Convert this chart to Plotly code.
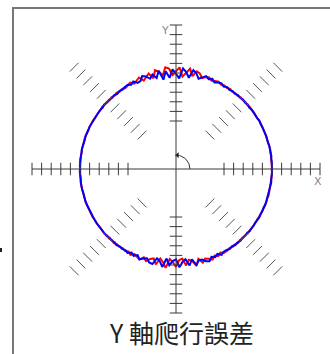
import numpy as np
import plotly.graph_objects as go

# Polar sampling of the measured path: one sample every 2 degrees
ANGLE_STEP_DEG = 2
NOMINAL_RADIUS = 10.0

# Radial deviation from the nominal circle, in hundredths of a unit
red_dev = [
    2, -1, 3, 0, -2, 1, 3, -1, 0, 2, -2, 1, 0, 3, -1, 2, -3, 1, 2, -1,
    4, -3, 5, -2, 6, -4, 3, -5, 7, -3,
    6, -4, 12, 3, -10, 15, 8, -14,
    25, 40, -18, 55, 10, -35, 60, 22, -20, 48, 65, -15, 30, 52, -25,
    35, 8, -20, 28, 12, -10, 18, 5,
    -5, 6, -4, 7, -3, 5, -6, 4, -2, 5,
    -2, 1, 3, -1, 2, -3, 1, 0, 2, -2, 3, -1, 0, 2, -3, 1, 2, -1, 3, -2,
    1, 0, -2, 3, -1, 2, -3, 1, 0, 2, -1, 3, -2, 1, 2, -3, 0, 1, -2, 3,
    5, -4, 6, -3, 7, -5, 4, -6, 5,
    -8, 12, -15, 5, 18, -20, 10, -25,
    -40, 15, -55, -20, 35, -60, -30, 20, -50, -65, 10, -45, -25, 30, -35,
    15, -20, -5, 18, -12, 8, -15, 6,
    5, -6, 4, -3, 6, -5, 3, -4, 5, -2,
    2, -1, 3, -2, 1, 0, 2, -3, 1, 2, -1, 3, 0, -2, 1, 2, -1, 0, 1, -2,
]
blue_dev = [
    -1, 2, 0, -2, 3, -1, 1, 2, -3, 0, 1, -2, 2, 0, -1, 3, -2, 0, 1, 2,
    -4, 5, -3, 6, -2, 4, -6, 3, -5, 6,
    -8, 10, 2, -14, 12, -5, 18, -12,
    -30, 20, 45, -40, 15, 50, -55, -10, 38, -48, 25, -60, 40, -30, 15,
    -22, 14, 30, -12, -18, 16, -6, 10,
    6, -4, 5, -7, 3, -5, 4, -3, 6, -4,
    1, -2, 2, 0, -3, 1, 2, -1, 0, 3, -2, 1, -1, 2, 0, -3, 2, 1, -2, 0,
    3, -1, 1, -2, 2, 0, -1, 3, -2, 1, 0, -2, 2, 1, -3, 0, 2, -1, 1, -2,
    -4, 5, -6, 3, -5, 7, -4, 5, -3,
    10, -14, 6, -18, 15, -8, -22, 12,
    20, -50, -25, 30, -62, 5, -40, -58, 25, -30, -55, 15, -45, 22, -20,
    -18, 10, 22, -14, 5, -16, 12, -6,
    -5, 4, -6, 5, -3, 6, -4, 3, -5, 4,
    -1, 2, -2, 0, 3, -1, 1, -2, 2, 0, -3, 1, 2, -1, 0, 2, -2, 1, 0,
]

# Scale ticks (units from the centre) on the axes and the diagonals
tick_units = [5, 6, 7, 8, 9, 10, 11, 12, 13, 14, 15]
diagonal_angles_deg = [45, 135, 225, 315]
axis_extent = 15
title_text = "Y 軸爬行誤差"

TICK_HALF = 0.65
AXIS_COLOR = "#3a3a3a"
DIAG_COLOR = "#555555"


def to_xy(dev):
    theta = np.deg2rad(np.arange(len(dev)) * ANGLE_STEP_DEG)
    r = NOMINAL_RADIUS + np.asarray(dev, dtype=float) / 100.0
    x = r * np.cos(theta)
    y = r * np.sin(theta)
    return np.append(x, x[0]), np.append(y, y[0])


fig = go.Figure()

# Axis lines
shapes = [
    dict(type="line", x0=-axis_extent, x1=axis_extent, y0=0, y1=0,
         line=dict(color=AXIS_COLOR, width=1)),
    dict(type="line", x0=0, x1=0, y0=-axis_extent, y1=axis_extent,
         line=dict(color=AXIS_COLOR, width=1)),
]
# Axis ticks on both sides of the centre
for t in tick_units:
    for s in (-1, 1):
        shapes.append(dict(type="line", x0=s * t, x1=s * t, y0=-TICK_HALF, y1=TICK_HALF,
                           line=dict(color=AXIS_COLOR, width=1)))
        shapes.append(dict(type="line", x0=-TICK_HALF, x1=TICK_HALF, y0=s * t, y1=s * t,
                           line=dict(color=AXIS_COLOR, width=1)))
# Diagonal hatch ticks, perpendicular to each 45-degree direction
for a in diagonal_angles_deg:
    ar = np.deg2rad(a)
    ux, uy = np.cos(ar), np.sin(ar)
    px, py = -uy, ux
    for t in tick_units:
        cx, cy = t * ux, t * uy
        shapes.append(dict(type="line",
                           x0=cx - TICK_HALF * px, y0=cy - TICK_HALF * py,
                           x1=cx + TICK_HALF * px, y1=cy + TICK_HALF * py,
                           line=dict(color=DIAG_COLOR, width=1)))

# Frame around the plot (left and top edges)
shapes.append(dict(type="path", xref="paper", yref="paper",
                   path=f"M {13/330} 0 L {13/330} {1-8/354} L 1 {1-8/354}",
                   line=dict(color="#777777", width=2)))
# Small mark at the left edge
shapes.append(dict(type="rect", xref="paper", yref="paper",
                   x0=0, x1=2/330, y0=1-252/354, y1=1-248/354,
                   fillcolor="#222222", line=dict(width=0)))

# Rotation-direction arc near the centre
arc_t = np.deg2rad(np.arange(0, 81, 5))
arc_r = 1.45
fig.add_trace(go.Scatter(x=arc_r * np.cos(arc_t), y=arc_r * np.sin(arc_t), mode="lines",
                         line=dict(color="#333333", width=1), hoverinfo="skip"))
fig.add_trace(go.Scatter(x=[arc_r * np.cos(np.deg2rad(84))], y=[arc_r * np.sin(np.deg2rad(84))],
                         mode="markers",
                         marker=dict(symbol="triangle-left", size=5, color="#222222"),
                         hoverinfo="skip"))

rx, ry = to_xy(red_dev)
bx, by = to_xy(blue_dev)
fig.add_trace(go.Scatter(x=rx, y=ry, mode="lines", line=dict(color="#ff0000", width=2)))
fig.add_trace(go.Scatter(x=bx, y=by, mode="lines", line=dict(color="#0000ff", width=2)))

W, H = 330, 354
CX, CY, UNIT = 176, 169, 9.6

fig.update_layout(
    width=W, height=H,
    margin=dict(l=0, r=0, t=0, b=0),
    paper_bgcolor="white", plot_bgcolor="white",
    showlegend=False,
    shapes=shapes,
    xaxis=dict(range=[-CX / UNIT, (W - CX) / UNIT], visible=False, fixedrange=True),
    yaxis=dict(range=[-(H - CY) / UNIT, CY / UNIT], visible=False, fixedrange=True),
    annotations=[
        dict(x=14.8, y=-1.35, text="X", showarrow=False,
             font=dict(family="DejaVu Sans", size=11, color="#888888")),
        dict(x=-1.15, y=14.4, text="Y", showarrow=False,
             font=dict(family="DejaVu Sans", size=11, color="#888888")),
        dict(x=181 / W, y=1 - 332 / H, xref="paper", yref="paper", text=title_text,
             showarrow=False, xanchor="center", yanchor="middle",
             font=dict(family="Noto Sans CJK TC", size=25, color="#222222")),
    ],
)

fig.write_html("out.html")
